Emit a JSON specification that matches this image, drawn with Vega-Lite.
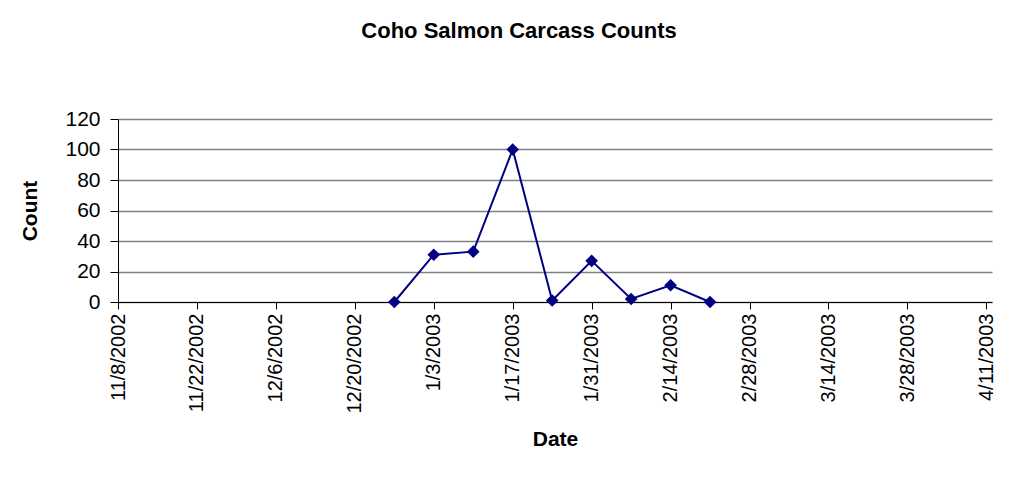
{
  "$schema": "https://vega.github.io/schema/vega-lite/v6.json",
  "width": 874,
  "height": 183,
  "autosize": "none",
  "padding": {"left": 118, "top": 119, "right": 23, "bottom": 181},
  "background": "white",
  "title": {
    "text": "Coho Salmon Carcass Counts",
    "font": "Liberation Sans",
    "fontSize": 22,
    "fontWeight": "bold",
    "color": "black",
    "anchor": "middle",
    "frame": "group",
    "offset": 48,
    "baseline": "alphabetic",
    "dx": -36
  },
  "data": {
    "values": [
      {"date": "2002-12-27", "count": 0},
      {"date": "2003-01-03", "count": 31},
      {"date": "2003-01-10", "count": 33},
      {"date": "2003-01-17", "count": 100},
      {"date": "2003-01-24", "count": 1},
      {"date": "2003-01-31", "count": 27},
      {"date": "2003-02-07", "count": 2},
      {"date": "2003-02-14", "count": 11},
      {"date": "2003-02-21", "count": 0}
    ]
  },
  "encoding": {
    "x": {
      "field": "date",
      "type": "temporal",
      "scale": {
        "type": "utc",
        "domain": [
          {"year": 2002, "month": 11, "date": 8, "utc": true},
          {"year": 2003, "month": 4, "date": 12, "utc": true}
        ],
        "nice": false
      },
      "axis": {
        "title": "Date",
        "titleFont": "Liberation Sans",
        "titleFontSize": 21,
        "titleFontWeight": "bold",
        "titleColor": "black",
        "titlePadding": 15,
        "labelAngle": 270,
        "labelFont": "Liberation Sans",
        "labelFontSize": 20,
        "labelColor": "black",
        "labelPadding": 4,
        "labelFlush": false,
        "labelOverlap": false,
        "labelExpr": "utcFormat(datum.value, '%-m/%-d/%Y')",
        "tickSize": 7,
        "tickColor": "black",
        "domainColor": "black",
        "domainWidth": 1,
        "grid": false,
        "values": [
          {"year": 2002, "month": 11, "date": 8, "utc": true},
          {"year": 2002, "month": 11, "date": 22, "utc": true},
          {"year": 2002, "month": 12, "date": 6, "utc": true},
          {"year": 2002, "month": 12, "date": 20, "utc": true},
          {"year": 2003, "month": 1, "date": 3, "utc": true},
          {"year": 2003, "month": 1, "date": 17, "utc": true},
          {"year": 2003, "month": 1, "date": 31, "utc": true},
          {"year": 2003, "month": 2, "date": 14, "utc": true},
          {"year": 2003, "month": 2, "date": 28, "utc": true},
          {"year": 2003, "month": 3, "date": 14, "utc": true},
          {"year": 2003, "month": 3, "date": 28, "utc": true},
          {"year": 2003, "month": 4, "date": 11, "utc": true}
        ]
      }
    },
    "y": {
      "field": "count",
      "type": "quantitative",
      "scale": {"domain": [0, 120], "nice": false},
      "axis": {
        "title": "Count",
        "titleFont": "Liberation Sans",
        "titleFontSize": 21,
        "titleFontWeight": "bold",
        "titleColor": "black",
        "titlePadding": 24,
        "labelFont": "Liberation Sans",
        "labelFontSize": 21,
        "labelColor": "black",
        "labelPadding": 10,
        "tickSize": 8,
        "tickColor": "black",
        "domainColor": "black",
        "domainWidth": 1,
        "values": [0, 20, 40, 60, 80, 100, 120],
        "grid": true,
        "gridColor": "#808080",
        "gridWidth": 1.5,
        "gridOpacity": 1
      }
    }
  },
  "layer": [
    {"mark": {"type": "line", "color": "#000080", "strokeWidth": 2}},
    {"mark": {"type": "point", "shape": "diamond", "filled": true, "size": 160, "color": "#000080", "opacity": 1}}
  ],
  "config": {"view": {"stroke": null}}
}
